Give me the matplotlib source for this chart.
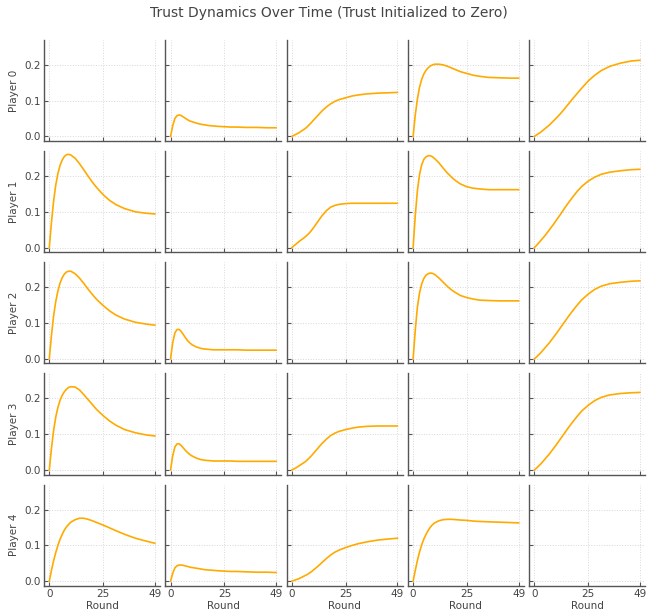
import numpy as np
import matplotlib
matplotlib.use("Agg")
import matplotlib.pyplot as plt

rounds = [0, 1, 2, 3, 4, 5, 6, 7, 8, 9, 10, 12, 14, 16, 18, 20, 22, 25, 28, 31, 35, 40, 45, 49]
players = ["Player 0", "Player 1", "Player 2", "Player 3", "Player 4"]
xticks = [0, 25, 49]
yticks = [0.0, 0.1, 0.2]

# trust of player i towards player j  (diagonal left empty)
trust_0_1 = [0, 0.03, 0.05, 0.058, 0.06, 0.058, 0.054, 0.05, 0.046, 0.043, 0.041, 0.037, 0.034,
             0.032, 0.030, 0.029, 0.028, 0.027, 0.026, 0.026, 0.025, 0.025, 0.024, 0.024]
trust_0_2 = [0, 0.003, 0.006, 0.009, 0.013, 0.017, 0.021, 0.026, 0.032, 0.038, 0.045, 0.058, 0.071,
             0.082, 0.091, 0.098, 0.103, 0.108, 0.113, 0.116, 0.119, 0.121, 0.122, 0.123]
trust_0_3 = [0, 0.06, 0.105, 0.138, 0.16, 0.175, 0.185, 0.192, 0.197, 0.2, 0.202, 0.202, 0.2,
             0.196, 0.191, 0.186, 0.181, 0.176, 0.171, 0.168, 0.165, 0.164, 0.163, 0.163]
trust_0_4 = [0, 0.004, 0.008, 0.012, 0.017, 0.022, 0.027, 0.032, 0.038, 0.044, 0.05, 0.063, 0.077,
             0.092, 0.107, 0.121, 0.135, 0.155, 0.171, 0.184, 0.196, 0.205, 0.211, 0.213]

trust_1_0 = [0, 0.07, 0.13, 0.175, 0.207, 0.23, 0.245, 0.255, 0.26, 0.261, 0.259, 0.25, 0.235,
             0.218, 0.2, 0.183, 0.168, 0.148, 0.132, 0.12, 0.109, 0.1, 0.096, 0.094]
trust_1_2 = [0, 0.005, 0.01, 0.015, 0.02, 0.024, 0.029, 0.034, 0.04, 0.047, 0.055, 0.072, 0.089,
             0.103, 0.113, 0.118, 0.121, 0.123, 0.124, 0.124, 0.124, 0.124, 0.124, 0.124]
trust_1_3 = [0, 0.09, 0.16, 0.205, 0.232, 0.247, 0.254, 0.257, 0.257, 0.254, 0.249, 0.237, 0.222,
             0.208, 0.196, 0.186, 0.178, 0.17, 0.166, 0.164, 0.162, 0.162, 0.162, 0.162]
trust_1_4 = [0, 0.006, 0.013, 0.02, 0.027, 0.034, 0.042, 0.05, 0.058, 0.066, 0.075, 0.092, 0.11,
             0.127, 0.143, 0.158, 0.171, 0.186, 0.197, 0.205, 0.211, 0.215, 0.218, 0.219]

trust_2_0 = [0, 0.065, 0.12, 0.16, 0.19, 0.212, 0.227, 0.237, 0.243, 0.245, 0.245, 0.238, 0.226,
             0.211, 0.195, 0.18, 0.166, 0.149, 0.134, 0.122, 0.111, 0.102, 0.097, 0.094]
trust_2_1 = [0, 0.045, 0.072, 0.082, 0.082, 0.076, 0.067, 0.058, 0.05, 0.044, 0.039, 0.033, 0.029,
             0.027, 0.026, 0.025, 0.025, 0.025, 0.025, 0.025, 0.024, 0.024, 0.024, 0.024]
trust_2_3 = [0, 0.08, 0.145, 0.185, 0.21, 0.225, 0.234, 0.238, 0.24, 0.239, 0.236, 0.226, 0.214,
             0.202, 0.192, 0.184, 0.177, 0.171, 0.167, 0.164, 0.163, 0.162, 0.162, 0.162]
trust_2_4 = [0, 0.005, 0.011, 0.017, 0.024, 0.031, 0.038, 0.045, 0.053, 0.061, 0.069, 0.086, 0.103,
             0.12, 0.136, 0.151, 0.165, 0.181, 0.194, 0.203, 0.21, 0.214, 0.217, 0.218]

trust_3_0 = [0, 0.06, 0.11, 0.148, 0.175, 0.195, 0.209, 0.219, 0.226, 0.231, 0.233, 0.232, 0.224,
             0.211, 0.197, 0.183, 0.169, 0.152, 0.137, 0.125, 0.113, 0.104, 0.098, 0.095]
trust_3_1 = [0, 0.04, 0.064, 0.073, 0.073, 0.068, 0.061, 0.054, 0.048, 0.043, 0.039, 0.033, 0.029,
             0.027, 0.026, 0.025, 0.025, 0.025, 0.025, 0.024, 0.024, 0.024, 0.024, 0.024]
trust_3_2 = [0, 0.003, 0.006, 0.01, 0.014, 0.018, 0.022, 0.027, 0.033, 0.039, 0.046, 0.06, 0.074,
             0.086, 0.096, 0.103, 0.108, 0.113, 0.117, 0.12, 0.122, 0.123, 0.123, 0.123]
trust_3_4 = [0, 0.005, 0.011, 0.017, 0.024, 0.031, 0.038, 0.045, 0.053, 0.061, 0.069, 0.086, 0.103,
             0.12, 0.136, 0.151, 0.165, 0.181, 0.194, 0.203, 0.21, 0.214, 0.216, 0.217]

trust_4_0 = [0, 0.03, 0.057, 0.08, 0.1, 0.117, 0.131, 0.143, 0.152, 0.159, 0.165, 0.172, 0.176,
             0.176, 0.173, 0.169, 0.164, 0.157, 0.149, 0.141, 0.131, 0.12, 0.112, 0.106]
trust_4_1 = [0, 0.022, 0.037, 0.043, 0.045, 0.045, 0.044, 0.042, 0.041, 0.039, 0.038, 0.036, 0.034,
             0.032, 0.031, 0.030, 0.029, 0.028, 0.027, 0.027, 0.026, 0.025, 0.025, 0.024]
trust_4_2 = [0, 0.002, 0.004, 0.006, 0.009, 0.012, 0.015, 0.018, 0.022, 0.026, 0.031, 0.041, 0.052,
             0.063, 0.073, 0.081, 0.087, 0.094, 0.1, 0.105, 0.11, 0.115, 0.118, 0.12]
trust_4_3 = [0, 0.03, 0.058, 0.082, 0.102, 0.118, 0.131, 0.142, 0.151, 0.158, 0.163, 0.169, 0.172,
             0.173, 0.173, 0.172, 0.171, 0.17, 0.168, 0.167, 0.166, 0.165, 0.164, 0.163]

trust = {
  (0, 1): trust_0_1, (0, 2): trust_0_2, (0, 3): trust_0_3, (0, 4): trust_0_4,
  (1, 0): trust_1_0, (1, 2): trust_1_2, (1, 3): trust_1_3, (1, 4): trust_1_4,
  (2, 0): trust_2_0, (2, 1): trust_2_1, (2, 3): trust_2_3, (2, 4): trust_2_4,
  (3, 0): trust_3_0, (3, 1): trust_3_1, (3, 2): trust_3_2, (3, 4): trust_3_4,
  (4, 0): trust_4_0, (4, 1): trust_4_1, (4, 2): trust_4_2, (4, 3): trust_4_3,
}

line_color = "#FFAA00"
text_color = "#444444"

fig, axes = plt.subplots(5, 5, figsize=(6.57, 6.14), dpi=100, sharex=True, sharey=True)
fig.subplots_adjust(left=0.067, right=0.982, top=0.935, bottom=0.046, wspace=0.045, hspace=0.1)

for i in range(5):
  for j in range(5):
    axe = axes[i, j]
    if (i, j) in trust:
      axe.plot(rounds, trust[(i, j)], color=line_color, lw=1.2)
    for side in ["top", "right"]:
      axe.spines[side].set_visible(False)
    for side in ["left", "bottom"]:
      axe.spines[side].set_color("#555555")
      axe.spines[side].set_linewidth(1.0)
    axe.grid(True, linestyle=":", linewidth=0.7, color="#d8d8d8")
    axe.tick_params(direction="in", length=3, width=0.8, color="#555555",
                    labelsize=7.5, labelcolor=text_color, pad=2)
    if j == 0:
      axe.set_ylabel(players[i], fontsize=7.5, color=text_color, labelpad=4)
    if i == 4:
      axe.set_xlabel("Round", fontsize=7.5, color=text_color, labelpad=2)

axes[0, 0].set_xticks(xticks)
axes[0, 0].set_yticks(yticks)
axes[0, 0].set_xlim(-2.45, 51.45)
axes[0, 0].set_ylim(-0.013, 0.27)

fig.suptitle("Trust Dynamics Over Time (Trust Initialized to Zero)", fontsize=10,
             color=text_color, y=0.99)

plt.savefig("out.png", dpi=100)
